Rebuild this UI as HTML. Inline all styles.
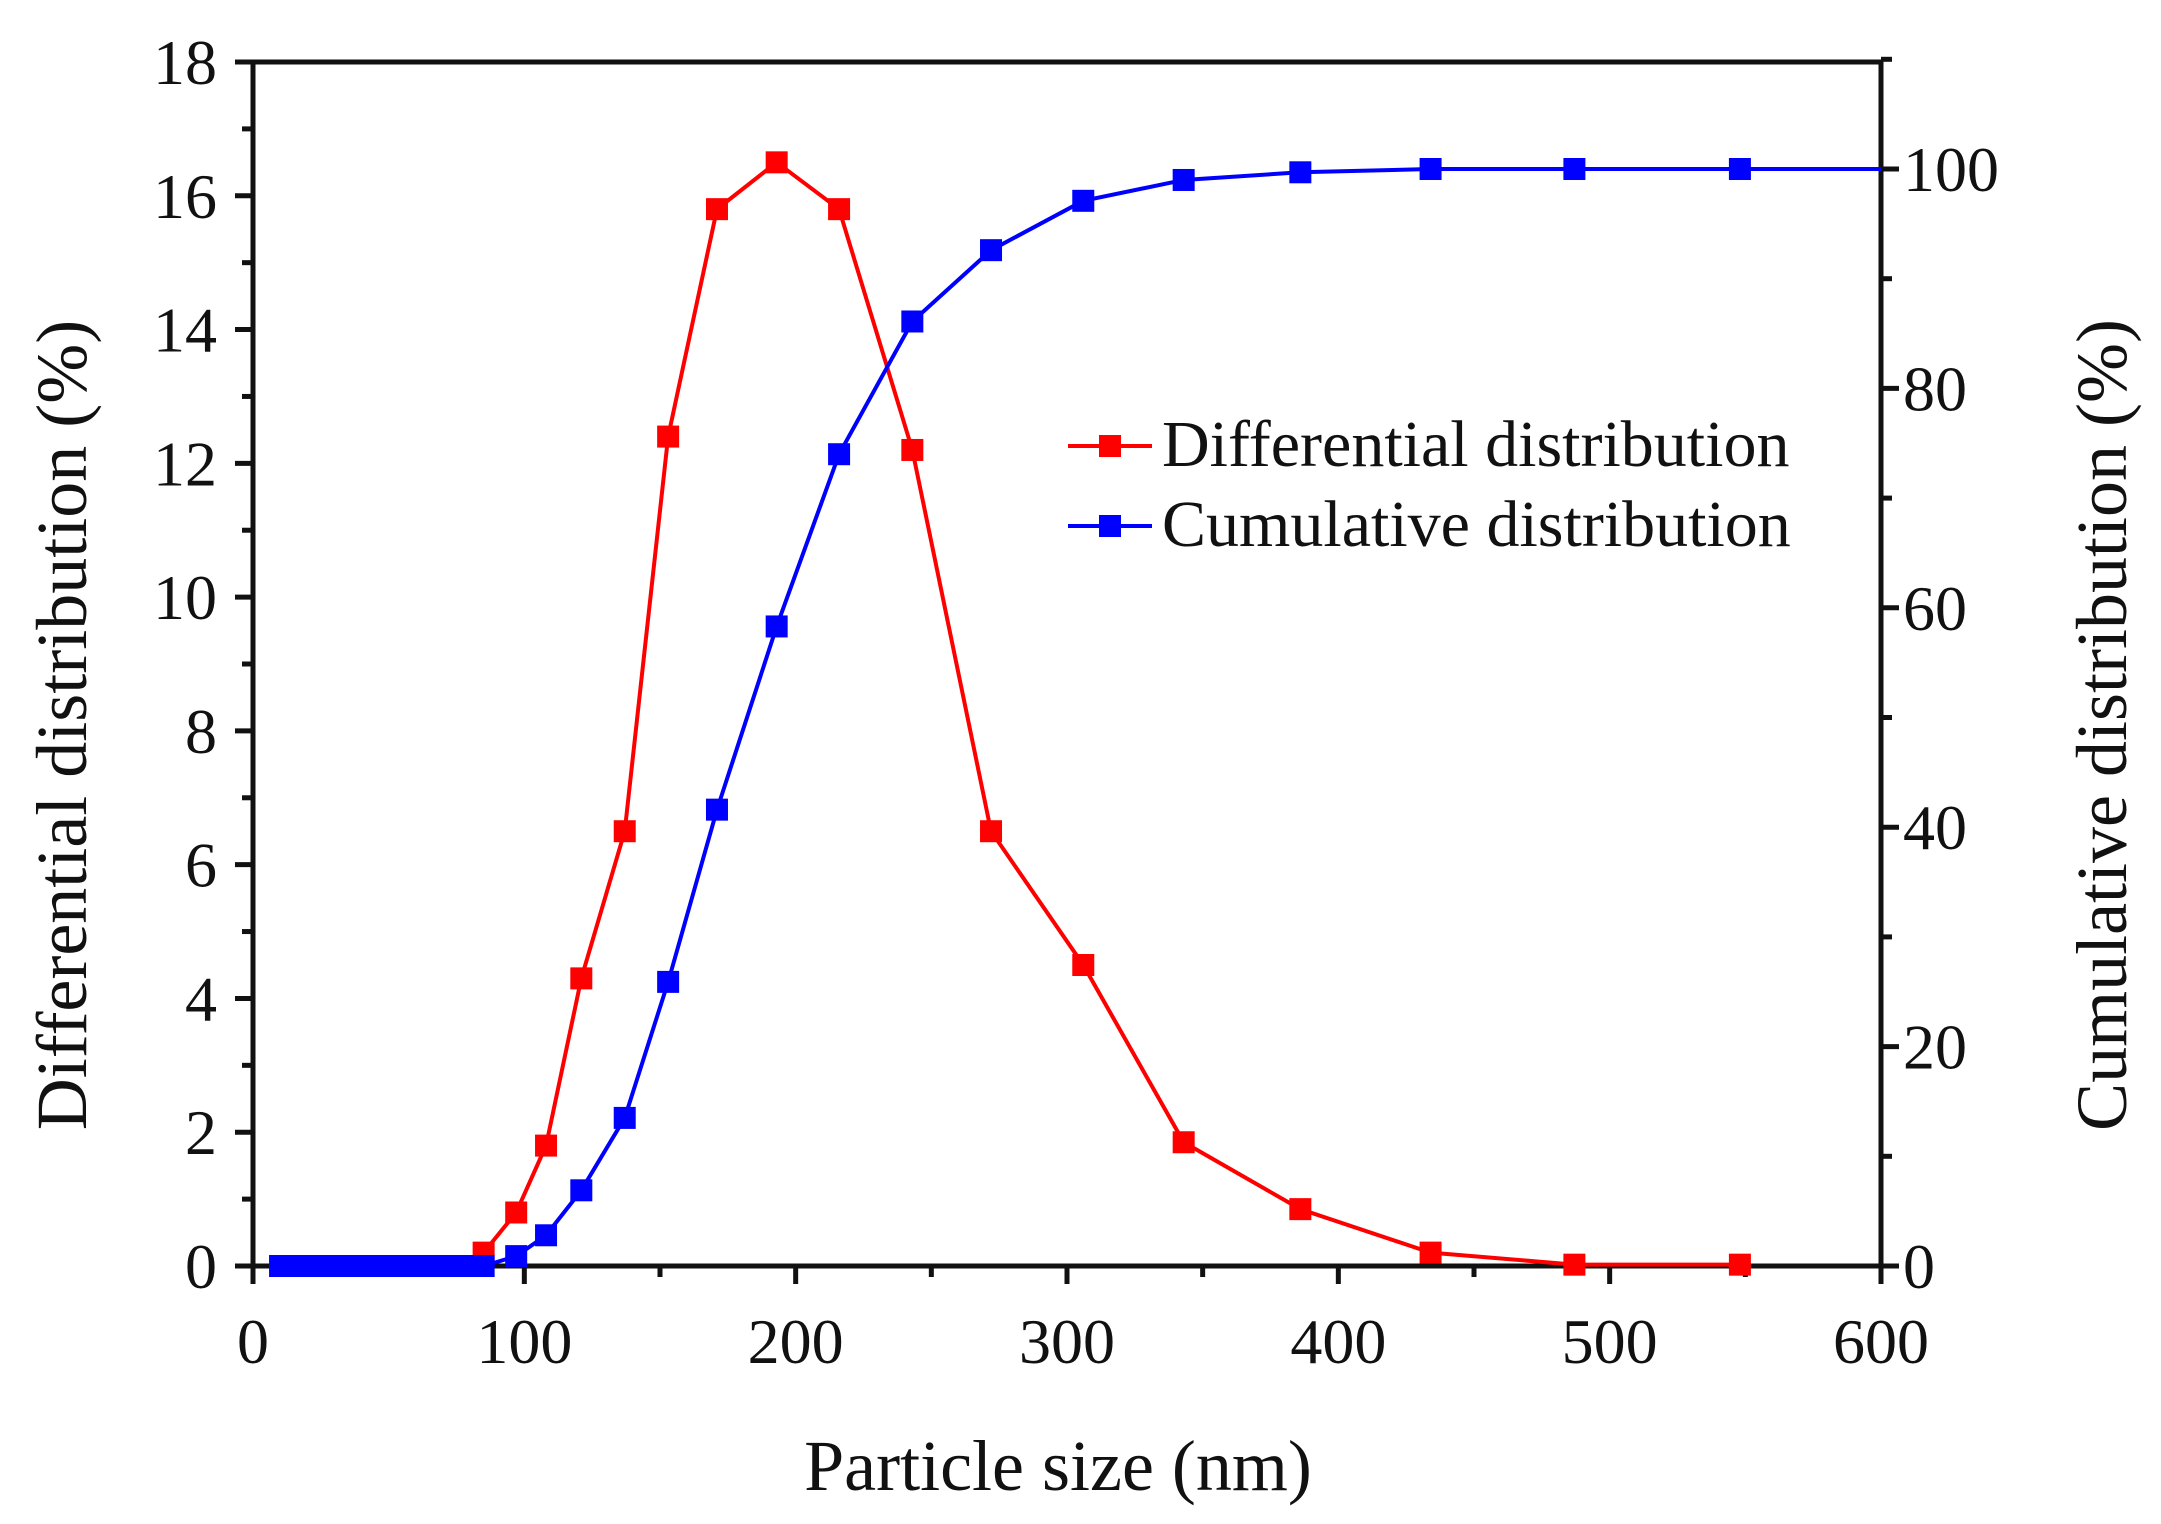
<!DOCTYPE html>
<html><head><meta charset="utf-8"><style>
html,body{margin:0;padding:0;background:#fff}
svg{display:block}
text{font-family:"Liberation Serif",serif;fill:#111}
</style></head><body>
<svg id="chart" width="2161" height="1524" viewBox="0 0 2161 1524">
<g id="axes"></g>
<g id="series"></g>
<g id="legend"></g>
</svg>
<script>
const sizes = [10,15,20,25,30,35,40,45,50,55,60,65,70,75,80,85,97,108,121,137,153,171,193,216,243,272,306,343,386,434,487,548];
const diffValues = [0,0,0,0,0,0,0,0,0,0,0,0,0,0,0,0.2,0.8,1.8,4.3,6.5,12.4,15.8,16.5,15.8,12.2,6.5,4.5,1.85,0.85,0.2,0.02,0.02];
const cumValues = [0,0,0,0,0,0,0,0,0,0,0,0,0,0,0,0,0.9,2.8,6.9,13.5,25.9,41.6,58.3,74,86.1,92.6,97.1,99,99.7,100,100,100];
const xTicks = [0,100,200,300,400,500,600];
const yLeftTicks = [0,2,4,6,8,10,12,14,16,18];
const yRightTicks = [0,20,40,60,80,100];

const NS='http://www.w3.org/2000/svg';
const X0=253,X1=1881,Y0=1266,Ytop=62;
const xs=v=>X0+(v/600)*(X1-X0);
const yl=v=>Y0-(v/18)*(Y0-Ytop);
const yr=v=>Y0-(v/100)*(Y0-169);
function mk(tag,attrs,parent){const e=document.createElementNS(NS,tag);for(const k in attrs)e.setAttribute(k,attrs[k]);parent.appendChild(e);return e;}
const axes=document.getElementById('axes'),series=document.getElementById('series'),legend=document.getElementById('legend');

const frame=mk('rect',{x:X0,y:Ytop,width:X1-X0,height:Y0-Ytop,fill:'none',stroke:'#111','stroke-width':5},axes);



xTicks.forEach((t,i)=>{
  const x=xs(t);
  const l=mk('line',{x1:x,y1:Y0,x2:x,y2:Y0+18,stroke:'#111','stroke-width':5},axes);
  
  
  if(i<xTicks.length-1){const m=mk('line',{x1:xs(t+50),y1:Y0,x2:xs(t+50),y2:Y0+11,stroke:'#111','stroke-width':5},axes);
    
    }
  const tx=mk('text',{x:x,y:Y0+97,'font-size':64,'text-anchor':'middle'},axes);tx.textContent=t;
  
  
});
yLeftTicks.forEach((t,i)=>{
  const y=yl(t);
  const l=mk('line',{x1:X0-18,y1:y,x2:X0,y2:y,stroke:'#111','stroke-width':5},axes);
  
  
  if(i<yLeftTicks.length-1){const m=mk('line',{x1:X0-11,y1:yl(t+1),x2:X0,y2:yl(t+1),stroke:'#111','stroke-width':5},axes);
    
    }
  const tx=mk('text',{x:X0-36,y:y+22,'font-size':64,'text-anchor':'end'},axes);tx.textContent=t;
  
  
});
yRightTicks.forEach((t,i)=>{
  const y=yr(t);
  const l=mk('line',{x1:X1,y1:y,x2:X1+18,y2:y,stroke:'#111','stroke-width':5},axes);
  
  
  const m=mk('line',{x1:X1,y1:yr(t+10),x2:X1+11,y2:yr(t+10),stroke:'#111','stroke-width':5},axes);
  
  
  const tx=mk('text',{x:X1+22,y:y+22,'font-size':64,'text-anchor':'start'},axes);tx.textContent=t;
  
  
});
let t1=mk('text',{x:1058,y:1490,'font-size':72,'text-anchor':'middle'},axes);t1.textContent='Particle size  (nm)';


let t2=mk('text',{x:0,y:0,'font-size':72,'text-anchor':'middle',transform:'translate(86,725) rotate(-90)'},axes);t2.textContent='Differential distribution (%)';


let t3=mk('text',{x:0,y:0,'font-size':72,'text-anchor':'middle',transform:'translate(2126,725) rotate(-90)'},axes);t3.textContent='Cumulative distribution (%)';



function drawSeries(vals,yf,color,name,extend){
  let pts=sizes.map((s,i)=>xs(s)+','+yf(vals[i]));
  if(extend)pts.push(X1+','+yf(vals[vals.length-1]));
  const pl=mk('polyline',{points:pts.join(' '),fill:'none',stroke:color,'stroke-width':4},series);
  
  
  sizes.forEach((s,i)=>{
    const r=mk('rect',{x:xs(s)-11,y:yf(vals[i])-11,width:22,height:22,fill:color},series);
    
    
  });
}
drawSeries(diffValues,yl,'#ff0000','differential',false);
drawSeries(cumValues,yr,'#0000ff','cumulative',true);

[['Differential distribution','#ff0000',446,'legend-differential'],['Cumulative distribution','#0000ff',526,'legend-cumulative']].forEach(e=>{
  const g=mk('g',{},legend);
  
  
  mk('line',{x1:1068,y1:e[2],x2:1152,y2:e[2],stroke:e[1],'stroke-width':4},g);
  mk('rect',{x:1099,y:e[2]-11,width:22,height:22,fill:e[1]},g);
  const tx=mk('text',{x:1162,y:e[2]+20,'font-size':66},g);tx.textContent=e[0];
});
</script>
</body></html>
